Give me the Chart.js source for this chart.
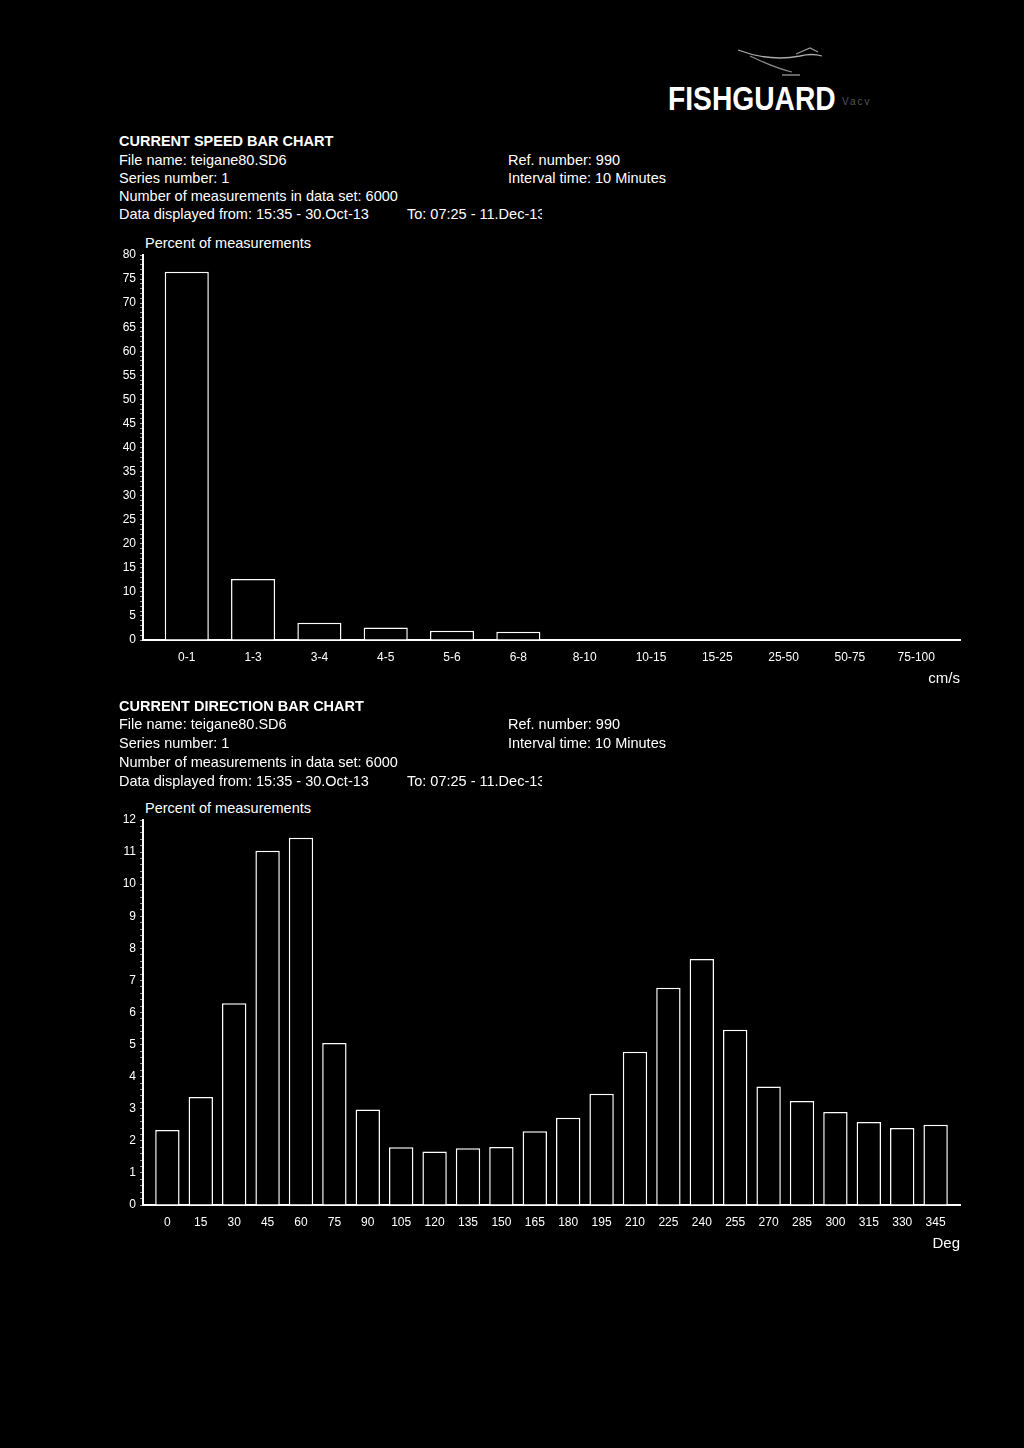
<!DOCTYPE html>
<html lang="en">
<head>
  <meta charset="UTF-8">
  <title>Current speed / direction bar charts</title>
  <script src="https://cdn.jsdelivr.net/npm/chart.js"></script>
  <style>
    * { font-family: Arial, "Liberation Sans", Helvetica, sans-serif; }
    body { margin: 0; background: #000; width: 1024px; height: 1448px; position: relative; overflow: hidden; color: #fff; }
    .t { position: absolute; font-size: 14.5px; line-height: 18px; white-space: nowrap; }
    .b { font-weight: bold; }
    .clip { overflow: hidden; }
    .box { position: absolute; left: 100px; width: 875px; height: 470px; }
    #logo { position: absolute; left: 668px; top: 81px; font-size: 34px; line-height: 34px; font-weight: bold;
            transform: scaleX(0.83); transform-origin: left top; white-space: nowrap; }
    #logoSub { position: absolute; left: 842px; top: 96px; font-size: 10px; color: #555; letter-spacing: 2px; }
  </style>
</head>
<body>
  <!-- logo -->
  <svg style="position:absolute;left:730px;top:44px" width="100" height="40">
    <path d="M8 6 Q40 18 70 12 Q82 9 92 12" stroke="#aaa" stroke-width="1.3" fill="none"/>
    <path d="M20 12 Q45 24 62 28" stroke="#888" stroke-width="1.2" fill="none"/>
    <path d="M66 10 L80 4 L88 8" stroke="#999" stroke-width="1.2" fill="none"/>
    <path d="M52 31 L70 31" stroke="#aaa" stroke-width="1.2"/>
  </svg>
  <div id="logo">FISHGUARD</div>
  <div id="logoSub">Vacv</div>

  <!-- speed header -->
  <div class="t b" style="left:119px;top:132px">CURRENT SPEED BAR CHART</div>
  <div class="t" style="left:119px;top:151px">File name: teigane80.SD6</div>
  <div class="t" style="left:508px;top:151px">Ref. number: 990</div>
  <div class="t" style="left:119px;top:169px">Series number: 1</div>
  <div class="t" style="left:508px;top:169px">Interval time: 10 Minutes</div>
  <div class="t" style="left:119px;top:187px">Number of measurements in data set: 6000</div>
  <div class="t" style="left:119px;top:205px">Data displayed from: 15:35 - 30.Oct-13</div>
  <div class="t clip" style="left:407px;top:205px;width:135px">To: 07:25 - 11.Dec-13</div>
  <div class="t" style="left:145px;top:234px">Percent of measurements</div>
  <div class="box" style="top:235px"><canvas id="speedChart" width="875" height="470"></canvas></div>

  <!-- direction header -->
  <div class="t b" style="left:119px;top:697px">CURRENT DIRECTION BAR CHART</div>
  <div class="t" style="left:119px;top:715px">File name: teigane80.SD6</div>
  <div class="t" style="left:508px;top:715px">Ref. number: 990</div>
  <div class="t" style="left:119px;top:734px">Series number: 1</div>
  <div class="t" style="left:508px;top:734px">Interval time: 10 Minutes</div>
  <div class="t" style="left:119px;top:753px">Number of measurements in data set: 6000</div>
  <div class="t" style="left:119px;top:772px">Data displayed from: 15:35 - 30.Oct-13</div>
  <div class="t clip" style="left:407px;top:772px;width:135px">To: 07:25 - 11.Dec-13</div>
  <div class="t" style="left:145px;top:799px">Percent of measurements</div>
  <div class="box" style="top:800px"><canvas id="dirChart" width="875" height="470"></canvas></div>

  <script>
    // speed classes (cm/s) and share of measurements (%)
    const speedCats = ['0-1', '1-3', '3-4', '4-5', '5-6', '6-8', '8-10', '10-15', '15-25', '25-50', '50-75', '75-100'];
    const speedPct = [76.5, 12.7, 3.6, 2.6, 1.9, 1.7, 0.1, 0, 0, 0, 0, 0];

    // direction sectors (deg) and share of measurements (%)
    const dirCats = ['0', '15', '30', '45', '60', '75', '90', '105', '120', '135', '150', '165',
                     '180', '195', '210', '225', '240', '255', '270', '285', '300', '315', '330', '345'];
    const dirPct = [2.34, 3.37, 6.29, 11.04, 11.45, 5.05, 2.98, 1.8, 1.67, 1.77, 1.81, 2.3,
                    2.72, 3.47, 4.78, 6.77, 7.67, 5.46, 3.69, 3.24, 2.9, 2.59, 2.4, 2.5];

    Chart.defaults.font.family = 'Arial, "Liberation Sans", sans-serif';

    function makeChart(id, cats, vals, yMax, minorStep, majorStep, edge, barPct, unit) {
      const ctx = document.getElementById(id).getContext('2d');
      return new Chart(ctx, {
        type: 'bar',
        data: {
          datasets: [{
            data: vals.map((v, i) => ({ x: i, y: v })),
            backgroundColor: '#000',
            borderColor: '#fff',
            borderWidth: 1.5,
            categoryPercentage: 1,
            barPercentage: barPct
          }]
        },
        options: {
          responsive: false,
          animation: false,
          layout: { padding: { top: 20, right: 15, left: 0, bottom: 17 } },
          plugins: { legend: { display: false }, tooltip: { enabled: false } },
          scales: {
            x: {
              type: 'linear',
              min: -edge,
              max: cats.length - 1 + edge,
              offset: false,
              afterBuildTicks: s => { s.ticks = cats.map((c, i) => ({ value: i })); },
              afterFit: s => { s.height = 48; },
              grid: { display: false, drawTicks: false },
              border: { color: '#fff', width: 2 },
              ticks: {
                color: '#fff', font: { size: 12 }, padding: 10, autoSkip: false, maxRotation: 0,
                callback: v => cats[v]
              },
              title: { display: true, text: unit, align: 'end', color: '#fff', font: { size: 15 }, padding: 0 }
            },
            y: {
              min: 0,
              max: yMax,
              afterFit: s => { s.width = 43; },
              border: { color: '#fff', width: 2 },
              grid: { drawOnChartArea: false, drawTicks: true, tickLength: 3, color: '#999', lineWidth: 1 },
              ticks: {
                stepSize: minorStep, autoSkip: false, color: '#fff', font: { size: 12 }, padding: 4,
                callback: v => {
                  const r = Math.round(v / majorStep) * majorStep;
                  return Math.abs(v - r) < 1e-6 ? r : '';
                }
              }
            }
          }
        }
      });
    }

    makeChart('speedChart', speedCats, speedPct, 80, 1, 5, 0.66, 0.665, 'cm/s');
    makeChart('dirChart', dirCats, dirPct, 12, 0.2, 1, 0.73, 0.73, 'Deg');
  </script>
</body>
</html>
